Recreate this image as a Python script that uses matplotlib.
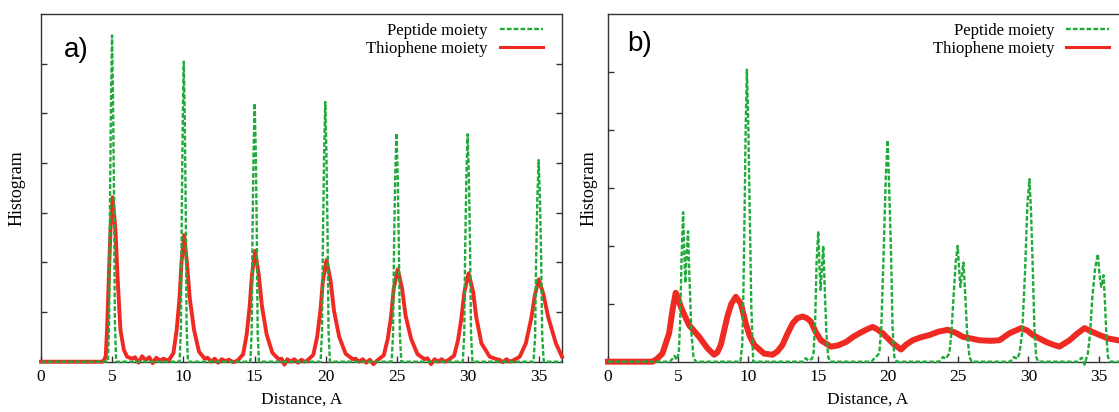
import matplotlib
matplotlib.use("Agg")
import matplotlib.pyplot as plt
from matplotlib.lines import Line2D

# ---------------- data ----------------
x_ticks = [0, 5, 10, 15, 20, 25, 30, 35]
series_names = ["Peptide moiety", "Thiophene moiety"]
panel_labels = ["a)", "b)"]

# Panel a, peptide moiety (green dashed)
a_pep_x = [0.0, 4.70, 4.79, 4.85, 4.92, 4.99, 5.06, 5.13, 5.19, 5.28,
           9.74, 9.83, 9.89, 9.96, 10.03, 10.10, 10.17, 10.23, 10.32,
           14.71, 14.80, 14.86, 14.93, 15.01, 15.09, 15.16, 15.22, 15.31,
           19.64, 19.74, 19.81, 19.89, 19.97, 20.05, 20.13, 20.20, 20.30,
           24.63, 24.73, 24.80, 24.88, 24.97, 25.06, 25.14, 25.21, 25.31,
           29.63, 29.73, 29.80, 29.88, 29.97, 30.06, 30.14, 30.21, 30.31,
           34.60, 34.71, 34.78, 34.87, 34.96, 35.05, 35.14, 35.21, 35.32, 36.6]
a_pep_y = [0.0, 0.0, 0.8, 3.3, 5.3, 6.57, 5.3, 3.3, 0.8, 0.0,
           0.0, 0.7, 3.0, 4.9, 6.04, 4.9, 3.0, 0.7, 0.0,
           0.0, 0.6, 2.6, 4.2, 5.20, 4.2, 2.6, 0.6, 0.0,
           0.0, 0.6, 2.6, 4.2, 5.23, 4.2, 2.6, 0.6, 0.0,
           0.0, 0.55, 2.3, 3.7, 4.60, 3.7, 2.3, 0.55, 0.0,
           0.0, 0.55, 2.3, 3.7, 4.58, 3.7, 2.3, 0.55, 0.0,
           0.0, 0.5, 2.0, 3.3, 4.06, 3.3, 2.0, 0.5, 0.0, 0.0]

# Panel a, thiophene moiety (red)
a_thio_x = [0.0, 4.30, 4.45, 4.55, 4.64, 4.76, 4.88, 5.03, 5.23, 5.39, 5.58, 5.82, 6.05, 6.40,
            6.60, 6.85, 7.10, 7.35, 7.60, 7.85, 8.10, 8.35, 8.60,
            8.95, 9.30, 9.53, 9.73, 9.87, 10.05, 10.25, 10.45, 10.75, 11.10, 11.50,
            11.70, 11.95, 12.20, 12.45, 12.70, 12.95, 13.20, 13.50,
            13.80, 14.20, 14.45, 14.66, 14.82, 15.04, 15.30, 15.52, 15.85, 16.25, 16.70,
            16.90, 17.10, 17.30, 17.55, 17.80, 18.05, 18.30, 18.50,
            18.70, 19.13, 19.40, 19.63, 19.80, 20.06, 20.35, 20.58, 20.95, 21.40, 21.90,
            22.10, 22.35, 22.60, 22.85, 23.10, 23.35,
            23.60, 24.08, 24.36, 24.60, 24.78, 25.06, 25.37, 25.61, 26.00, 26.45, 26.95,
            27.15, 27.40, 27.65, 27.90, 28.15, 28.35,
            28.55, 29.02, 29.30, 29.54, 29.74, 30.04, 30.36, 30.58, 30.94, 31.52, 32.00,
            32.20, 32.45, 32.70, 32.95,
            33.14, 33.63, 34.06, 34.46, 34.70, 34.97, 35.30, 35.63, 36.17, 36.60]
a_thio_y = [0.0, 0.0, 0.04, 0.12, 0.64, 1.64, 2.65, 3.31, 2.65, 1.64, 0.64, 0.24, 0.10, 0.06,
            0.09, -0.02, 0.11, 0.03, 0.09, -0.03, 0.08, 0.02, 0.06,
            0.02, 0.17, 0.64, 1.28, 2.00, 2.55, 2.00, 1.28, 0.64, 0.20, 0.06,
            0.08, 0.00, 0.06, -0.02, 0.05, 0.01, 0.04, -0.01,
            0.02, 0.15, 0.55, 1.12, 1.75, 2.23, 1.75, 1.12, 0.55, 0.18, 0.05,
            0.06, -0.06, 0.05, 0.00, 0.05, -0.02, 0.04, 0.00,
            0.02, 0.14, 0.50, 1.03, 1.62, 2.05, 1.62, 1.03, 0.50, 0.16, 0.05,
            0.06, 0.00, 0.05, -0.02, 0.04, -0.05,
            0.02, 0.13, 0.46, 0.93, 1.47, 1.86, 1.47, 0.93, 0.46, 0.15, 0.05,
            0.07, -0.05, 0.05, 0.00, 0.05, 0.00,
            0.02, 0.12, 0.44, 0.89, 1.40, 1.78, 1.40, 0.89, 0.37, 0.10, 0.05,
            0.04, -0.01, 0.05, 0.00,
            0.02, 0.10, 0.37, 0.90, 1.35, 1.66, 1.35, 0.90, 0.37, 0.10]

# Panel b, peptide moiety (green dashed)
b_pep_x = [0.0, 4.40, 4.60, 4.75, 4.90, 5.05, 5.15, 5.25, 5.36, 5.44, 5.52, 5.60, 5.71, 5.82, 5.95, 6.10, 6.25,
           9.45, 9.58, 9.66, 9.74, 9.82, 9.91, 10.00, 10.12, 10.22, 10.36,
           13.90, 14.10, 14.30, 14.55, 14.67, 14.78, 14.88, 15.00, 15.08, 15.17, 15.26, 15.36, 15.46, 15.58, 15.71, 15.85,
           18.80, 19.00, 19.20, 19.36, 19.50, 19.67, 19.82, 19.95, 20.05, 20.19, 20.30, 20.43, 20.60,
           23.60, 23.90, 24.10, 24.36, 24.50, 24.65, 24.80, 24.95, 25.05, 25.14, 25.25, 25.36, 25.48, 25.62, 25.79, 25.95,
           28.70, 28.95, 29.20, 29.36, 29.55, 29.76, 29.92, 30.07, 30.18, 30.31, 30.42, 30.55, 30.70,
           33.50, 33.80, 34.00, 34.24, 34.40, 34.55, 34.75, 34.95, 35.07, 35.19, 35.28, 35.36, 35.46, 35.56, 35.67, 35.85, 37.1]
b_pep_y = [0.0, 0.0, 0.05, 0.10, 0.03, 0.15, 0.70, 1.80, 2.58, 1.90, 1.36, 1.80, 2.25, 1.40, 0.50, 0.08, 0.0,
           0.0, 0.3, 1.2, 2.5, 4.0, 5.04, 4.2, 2.5, 1.0, 0.0,
           0.0, 0.06, 0.02, 0.05, 0.15, 0.70, 1.70, 2.25, 1.70, 1.24, 1.60, 2.00, 1.30, 0.50, 0.08, 0.0,
           0.0, 0.06, 0.10, 0.15, 0.6, 1.91, 3.2, 3.82, 3.1, 1.91, 0.6, 0.08, 0.0,
           0.0, 0.08, 0.05, 0.15, 0.5, 1.1, 1.7, 2.0, 1.6, 1.29, 1.5, 1.71, 1.2, 0.5, 0.08, 0.0,
           0.0, 0.08, 0.05, 0.15, 0.5, 1.58, 2.7, 3.15, 2.6, 1.58, 0.6, 0.08, 0.0,
           0.0, 0.07, -0.05, 0.15, 0.5, 1.1, 1.6, 1.86, 1.5, 1.29, 1.40, 1.49, 1.0, 0.45, 0.08, 0.0, 0.0]

# Panel b, thiophene moiety (red)
b_thio_x = [0.0, 3.17, 3.50, 3.88, 4.36, 4.60, 4.83, 5.00, 5.19, 5.50, 5.79, 6.50, 7.10, 7.57, 7.80,
            8.05, 8.52, 8.80, 9.12, 9.48, 9.83, 10.10, 10.43, 11.14, 11.74, 12.10, 12.45, 12.80,
            13.17, 13.50, 13.88, 14.20, 14.48, 14.80, 15.19, 15.90, 16.40, 16.98, 17.50, 17.93,
            18.40, 18.88, 19.20, 19.60, 20.31, 20.90, 21.30, 21.74, 22.30, 22.93, 23.60, 24.24,
            24.80, 25.31, 26.50, 27.30, 27.93, 28.64, 29.48, 29.90, 30.31, 31.26, 31.80, 32.21,
            32.93, 33.50, 34.00, 34.50, 35.07, 35.70, 36.38, 37.10]
b_thio_y = [0.0, 0.0, 0.05, 0.14, 0.49, 0.89, 1.19, 1.10, 0.95, 0.78, 0.63, 0.43, 0.23, 0.12, 0.16,
            0.29, 0.78, 1.00, 1.12, 1.00, 0.66, 0.45, 0.29, 0.14, 0.12, 0.18, 0.29, 0.48,
            0.66, 0.75, 0.78, 0.75, 0.69, 0.52, 0.37, 0.26, 0.28, 0.34, 0.43, 0.49,
            0.55, 0.60, 0.56, 0.49, 0.32, 0.21, 0.30, 0.37, 0.42, 0.46, 0.52, 0.55,
            0.50, 0.43, 0.37, 0.36, 0.37, 0.49, 0.58, 0.54, 0.46, 0.34, 0.29, 0.26,
            0.37, 0.49, 0.58, 0.52, 0.46, 0.40, 0.37, 0.34]

# ---------------- styling ----------------
GREEN = "#1faa3a"
RED = "#ee2a22"
SPINE = "#333333"
serif = "Liberation Serif"
sans = "Liberation Sans"

W, H = 1119, 412
fig = plt.figure(figsize=(W / 100, H / 100), dpi=100)

def frac(l, r, t, b):
    return [l / W, 1 - b / H, (r - l) / W, (b - t) / H]

ax_a = fig.add_axes(frac(41, 562, 14, 361.7))
ax_b = fig.add_axes(frac(608, 1128, 14, 361.7))

panels = [
    (ax_a, a_pep_x, a_pep_y, a_thio_x, a_thio_y, 36.6, 7, 2.8, -0.046, (0.044, 0.935)),
    (ax_b, b_pep_x, b_pep_y, b_thio_x, b_thio_y, 37.1, 6, 4.3, -0.037, (0.037, 0.95)),
]

for i, (ax, px, py, tx, ty, xmax, ymax, red_lw, ylab_x, lab_pos) in enumerate(panels):
    ax.plot(tx, ty, color=RED, lw=red_lw, solid_joinstyle="round",
            zorder=3, clip_on=False)
    ax.plot(px, py, color=GREEN, lw=1.7, dashes=(2.0, 0.9),
            zorder=4, clip_on=False)
    ax.set_xlim(0, xmax)
    ax.set_ylim(0, ymax)
    ax.set_xticks(x_ticks)
    ax.set_xticklabels([str(v) for v in x_ticks], fontfamily=serif, fontsize=12.5)
    ax.set_yticks(list(range(1, ymax)))
    ax.set_yticklabels([])
    ax.tick_params(axis="x", direction="in", length=4, width=1, color=SPINE,
                   pad=5, top=False)
    ax.tick_params(axis="y", direction="in", length=4, width=1, color=SPINE,
                   left=True, right=True)
    for s in ax.spines.values():
        s.set_color(SPINE)
        s.set_linewidth(1.0)
    ax.set_xlabel("Distance, A", fontfamily=serif, fontsize=12.5, va="top")
    ax.xaxis.set_label_coords(0.5, -0.085)
    ax.set_ylabel("Histogram", fontfamily=serif, fontsize=13, va="center")
    ax.yaxis.set_label_coords(ylab_x, 0.5)
    ax.text(lab_pos[0], lab_pos[1], panel_labels[i],
            transform=ax.transAxes, fontfamily=sans, fontsize=20, va="top", ha="left")
    handles = [Line2D([], [], color=GREEN, lw=1.7, dashes=(2.0, 0.9)),
               Line2D([], [], color=RED, lw=2.2)]
    ax.legend(handles, series_names, loc="upper right", bbox_to_anchor=(0.9635, 0.975),
              frameon=False, markerfirst=False, handlelength=2.6,
              handletextpad=0.7, labelspacing=0.15, borderaxespad=0,
              borderpad=0, prop={"family": serif, "size": 12})

fig.savefig("out.png", dpi=100)
